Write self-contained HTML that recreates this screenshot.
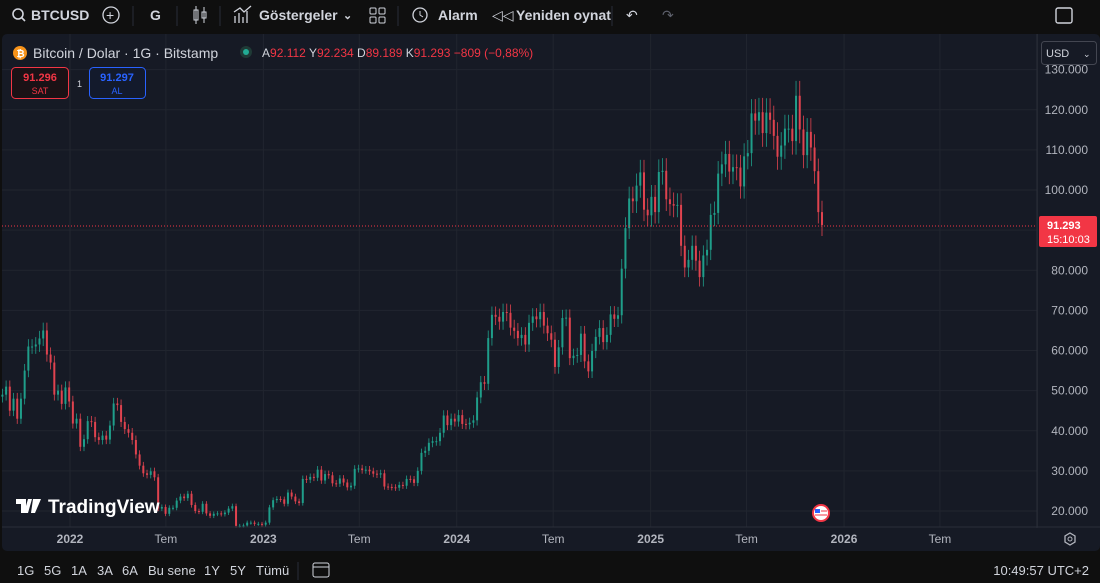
<!DOCTYPE html>
<html><head><meta charset="utf-8">
<style>
html,body{margin:0;padding:0;background:#0f0f0f;width:1100px;height:583px;overflow:hidden;font-family:"Liberation Sans",sans-serif;}
svg text{font-family:"Liberation Sans",sans-serif;}
</style></head>
<body>
<svg id="c" width="1100" height="583" xmlns="http://www.w3.org/2000/svg">
<rect x="0" y="0" width="1100" height="583" fill="#0f0f0f"/>
<rect x="2" y="34" width="1098" height="517" rx="5" fill="#161a25"/>
<g id="grid"></g>
<g id="candles"></g>
<line x1="2" y1="226" x2="1037" y2="226" stroke="#f23645" stroke-width="1" stroke-dasharray="1,2"/>
<line x1="1037" y1="34" x2="1037" y2="528" stroke="#2a2e39"/>
<line x1="2" y1="527" x2="1100" y2="527" stroke="#2a2e39"/>
<g id="yaxis"></g>
<g id="xaxis"></g>

<g fill="#d1d4dc" font-size="14" font-weight="bold">
<g><circle cx="18" cy="14" r="5" fill="none" stroke="#d1d4dc" stroke-width="1.6"/><line x1="22" y1="18" x2="25" y2="21" stroke="#d1d4dc" stroke-width="1.6"/><text x="31" y="20">BTCUSD</text></g>
<g><circle cx="111" cy="15" r="8" fill="none" stroke="#d1d4dc" stroke-width="1.3"/><text x="106" y="20" font-weight="normal">+</text></g>
<line x1="133" y1="6" x2="133" y2="26" stroke="#2a2e39"/>
<text x="150" y="20">G</text>
<line x1="177" y1="6" x2="177" y2="26" stroke="#2a2e39"/>
<g stroke="#d1d4dc" fill="none"><rect x="194" y="10" width="4" height="10"/><rect x="202" y="12" width="4" height="6"/><line x1="196" y1="6" x2="196" y2="24"/><line x1="204" y1="7" x2="204" y2="23"/></g>
<line x1="220" y1="6" x2="220" y2="26" stroke="#2a2e39"/>
<g><path d="M235 23 L235 16 M239 23 L239 13 M243 23 L243 17 M247 23 L247 11 M234 12 L240 8 L244 12 L251 6" stroke="#d1d4dc" fill="none" stroke-width="1.3"/><text x="259" y="20">Göstergeler</text><text x="343" y="19" font-size="11">⌄</text></g>
<g fill="none" stroke="#d1d4dc"><rect x="370" y="8" width="6" height="6" rx="1"/><rect x="379" y="8" width="6" height="6" rx="1"/><rect x="370" y="17" width="6" height="6" rx="1"/><rect x="379" y="17" width="6" height="6" rx="1"/></g>
<line x1="398" y1="6" x2="398" y2="26" stroke="#2a2e39"/>
<g><circle cx="420" cy="15" r="7" fill="none" stroke="#d1d4dc" stroke-width="1.3"/><path d="M420 11 L420 15 L423 17" stroke="#d1d4dc" fill="none"/><text x="438" y="20">Alarm</text></g>
<g><text x="492" y="20" font-weight="normal">◁◁</text><text x="516" y="20">Yeniden oynat</text></g>
<line x1="612" y1="6" x2="612" y2="26" stroke="#2a2e39"/>
<text x="626" y="20" font-weight="normal">↶</text>
<text x="662" y="20" font-weight="normal" fill="#5d606b">↷</text>
<rect x="1056" y="8" width="16" height="15" rx="2" fill="none" stroke="#d1d4dc" stroke-width="1.4"/>
</g>

<g>
<circle cx="20" cy="53" r="7" fill="#f7931a"/>
<text x="16.5" y="57" font-size="10" fill="#fff" font-weight="bold">₿</text>
<text x="33" y="58" font-size="14" fill="#d1d4dc">Bitcoin / Dolar · 1G · Bitstamp</text>
<circle cx="246" cy="52" r="6" fill="#1f3a36"/><circle cx="246" cy="52" r="3" fill="#22ab94"/>
<text x="262" y="57" font-size="12" fill="#f23645"><tspan fill="#d1d4dc">A</tspan>92.112 <tspan fill="#d1d4dc">Y</tspan>92.234 <tspan fill="#d1d4dc">D</tspan>89.189 <tspan fill="#d1d4dc">K</tspan>91.293 −809 (−0,88%)</text>
</g>
<g><rect x="11.5" y="67.5" width="57" height="31" rx="4" fill="#1a1216" stroke="#f23645"/><text x="40" y="81" font-size="11" font-weight="bold" fill="#f23645" text-anchor="middle">91.296</text><text x="40" y="94" font-size="9" fill="#f23645" text-anchor="middle">SAT</text></g>
<text x="77" y="87" font-size="9" fill="#d1d4dc">1</text>
<g><rect x="89.5" y="67.5" width="56" height="31" rx="4" fill="#131a2c" stroke="#2962ff"/><text x="117" y="81" font-size="11" font-weight="bold" fill="#2962ff" text-anchor="middle">91.297</text><text x="117" y="94" font-size="9" fill="#2962ff" text-anchor="middle">AL</text></g>

<g><rect x="1041.5" y="41.5" width="55" height="23" rx="3" fill="#161a25" stroke="#434651"/><text x="1046" y="57" font-size="11" fill="#d1d4dc">USD</text><text x="1083" y="57" font-size="9" fill="#d1d4dc">⌄</text></g>

<g><rect x="1039" y="216" width="58" height="31" rx="2" fill="#f23645"/><text x="1047" y="229" font-size="11" font-weight="bold" fill="#fff">91.293</text><text x="1047" y="243" font-size="11" fill="#fff">15:10:03</text></g>

<g><path d="M16 499 h10 v14 h-5 v-9 h-5 z M28 499 h4 l-4 14 h-4 z" fill="#fff"/><path d="M33 499 h8 l-6 14 h-4 z" fill="#fff"/><text x="48" y="513" font-size="19" font-weight="bold" fill="#fff">TradingView</text></g>

<g><circle cx="821" cy="513" r="9" fill="#f23645"/><circle cx="821" cy="513" r="7" fill="#fff"/><rect x="815" y="509" width="5" height="4" fill="#2962ff"/><line x1="815" y1="515" x2="827" y2="515" stroke="#f23645"/><line x1="821" y1="511" x2="827" y2="511" stroke="#f23645"/></g>

<g><path d="M1070 533 l5 3 v6 l-5 3 l-5 -3 v-6 z" fill="none" stroke="#b2b5be" stroke-width="1.3"/><circle cx="1070" cy="539" r="2" fill="none" stroke="#b2b5be"/></g>

<g font-size="13" fill="#d1d4dc">
<text x="17" y="575">1G</text>
<text x="44" y="575">5G</text>
<text x="71" y="575">1A</text>
<text x="97" y="575">3A</text>
<text x="122" y="575">6A</text>
<text x="148" y="575">Bu sene</text>
<text x="204" y="575">1Y</text>
<text x="230" y="575">5Y</text>
<text x="256" y="575">Tümü</text>
<line x1="298" y1="562" x2="298" y2="580" stroke="#2a2e39"/>
<g fill="none" stroke="#d1d4dc"><rect x="313" y="563" width="16" height="14" rx="2"/><line x1="313" y1="567" x2="329" y2="567"/></g>
<text x="1089" y="575" text-anchor="end">10:49:57 UTC+2</text>
</g>
</svg>
<script>
// weekly closes (USD), first week starting 2021-08-23
const startDate = "2021-08-23";
const closes = [
49000,51000,45000,48000,43000,48000,55000,61000,61000,61500,63000,65000,59000,57000,49000,50000,46700,50800,47300,
41800,43000,36000,37900,42400,42200,38400,37700,38800,37800,41300,46800,46400,42200,40400,39500,37700,34100,31300,29400,29000,29900,28400,20600,21000,19300,20800,20800,22600,23600,23200,24300,21500,20000,19800,21800,19400,18800,19300,19400,19200,19600,20600,21200,16300,16300,16400,17100,17100,16800,16800,16600,
17100,20900,22700,23000,22900,21800,24600,23600,22400,22000,28000,27800,28500,28300,30300,27600,29200,28900,26900,26800,28100,27100,25900,26300,30500,30600,30200,30300,29900,29300,29100,29400,26100,26000,25900,25800,26500,26300,28000,27900,27000,30000,34500,35000,37000,37400,37400,39500,43800,41400,43000,42300,
43900,41700,41600,42000,42600,48300,52100,51700,63100,68900,68400,67200,69600,69400,65700,64900,63100,63900,61500,66900,68500,67800,69600,66200,64300,62700,55900,60800,68100,68200,58100,58700,58900,64200,57300,54800,59900,63400,65600,62100,63900,69000,67900,68800,80400,90500,97900,97200,101100,104400,95100,93700,98300,
94500,104500,104800,97700,96500,96100,96300,86100,80700,82600,86100,82400,78300,83700,85100,93800,94300,104100,106400,109000,104600,105700,105600,100900,108400,109200,119100,117300,119400,114200,119300,117500,113500,108300,111100,115300,115300,112200,123500,115100,108700,114500,110600,104700,94500,91293
];
const firstOpen = 48500;
const priceTicks = [20000,30000,40000,50000,60000,70000,80000,90000,100000,110000,120000,130000];
const timeTickDates = ["2022-01-01","2022-07-01","2023-01-01","2023-07-01","2024-01-01","2024-07-01","2025-01-01","2025-07-01","2026-01-01","2026-07-01","2027-01-01"];
const timeTickLabels = ["2022","Tem","2023","Tem","2024","Tem","2025","Tem","2026","Tem","20:"];

const NS="http://www.w3.org/2000/svg";
const origin=Date.UTC(2022,0,1), dayMs=86400000;
function xOfDate(s){const d=new Date(s+"T00:00:00Z");return 70+(d-origin)/dayMs*0.5298;}
function yOf(p){return 511-(p-20000)*0.004012;}
function mk(tag,attrs,parent){const e=document.createElementNS(NS,tag);for(const k in attrs)e.setAttribute(k,attrs[k]);parent.appendChild(e);return e;}
const grid=document.getElementById('grid'),ya=document.getElementById('yaxis'),xa=document.getElementById('xaxis'),cg=document.getElementById('candles');
priceTicks.forEach(p=>{
  const y=yOf(p);
  const l=mk('line',{x1:2,x2:1037,y1:y,y2:y,stroke:'#21252f'},grid);
  
  
  const t=mk('text',{x:1088,y:y+4,'font-size':12,fill:'#b2b5be','text-anchor':'end'},ya);
  t.textContent=p.toLocaleString('de-DE');
  
  
});
timeTickDates.forEach((d,i)=>{
  const x=xOfDate(d);
  const l=mk('line',{x1:x,x2:x,y1:34,y2:527,stroke:'#21252f'},grid);
  
  
  if(x<1030){
  const t=mk('text',{x:x,y:543,'font-size':12,fill:'#b2b5be','text-anchor':'middle','font-weight':timeTickLabels[i]==='Tem'?'normal':'bold'},xa);
  t.textContent=timeTickLabels[i];
  
  }
});
const s0=new Date(startDate+"T00:00:00Z");
let prev=firstOpen;
closes.forEach((c,i)=>{
  const d=new Date(s0.getTime()+i*7*dayMs);
  const x=70+(d-origin)/dayMs*0.5298+1.8;
  const o=prev, up=c>=o;
  const col=up?'#1f9e8a':'#e0434f';
  const hi=Math.max(o,c)*1.03, lo=Math.min(o,c)*0.97;
  const w=mk('line',{x1:x,x2:x,y1:yOf(hi),y2:yOf(lo),stroke:col,'stroke-width':0.8},cg);
  
  
  const yt=yOf(Math.max(o,c)),yb=yOf(Math.min(o,c));
  const b=mk('rect',{x:x-1,y:yt,width:2,height:Math.max(1,yb-yt),fill:col},cg);
  
  
  prev=c;
});
</script>
</body></html>
